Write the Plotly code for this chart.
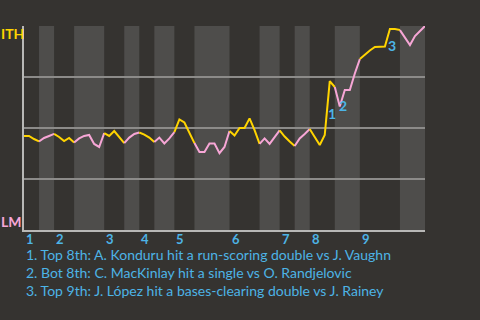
import plotly.graph_objects as go

# Win probability for ITH (percent) after each plate appearance (index 0 = start)
wp_ith = [46.1, 46.1, 44.6, 43.4, 45.1, 46.1, 47.1, 45.6, 43.6, 45.1,
          42.9, 44.9, 46.1, 46.6, 42.2, 40.7, 47.5, 46.1, 48.5, 45.3,
          42.6, 45.3, 47.1, 47.8, 46.8, 45.3, 43.1, 45.3, 42.4, 44.9,
          48.0, 54.2, 52.7, 47.5, 42.6, 38.2, 38.2, 42.4, 42.4, 37.7,
          40.7, 48.5, 46.3, 50.0, 50.0, 54.7, 49.0, 42.2, 44.9, 42.2,
          45.3, 48.8, 45.8, 43.4, 41.2, 44.9, 47.1, 49.5, 45.6, 41.7,
          46.6, 73.0, 70.1, 60.5, 68.6, 68.6, 76.7, 83.8, 86.0, 88.0,
          89.7, 89.9, 89.9, 98.5, 98.5, 98.0, 94.4, 90.7, 95.1, 97.5,
          100.0]

# Plate-appearance index where each half inning starts (last value = end of game)
half_inning_bounds = [0, 3, 6, 10, 16, 20, 23, 26, 30, 34, 41, 47, 51, 54, 57, 62, 67, 75, 80]
inning_labels = ["1", "2", "3", "4", "5", "6", "7", "8", "9"]

# Key plays: PA index of the play and its caption
event_pa = [61, 63, 73]
event_labels = ["1", "2", "3"]
event_notes = [
    "1. Top 8th: A. Konduru hit a run-scoring double vs J. Vaughn",
    "2. Bot 8th: C. MacKinlay hit a single vs O. Randjelovic",
    "3. Top 9th: J. López hit a bases-clearing double vs J. Rainey",
]
team_top = "ITH"
team_bottom = "LM"

BG = "#353330"
BAND = "#4e4d4b"
YELLOW = "#ffd400"
PINK = "#f7a6d6"
BLUE = "#4db4e6"
FONT = "Lato"

W, H = 480, 320
L, R, T, B = 24, 55, 26, 90
PW, PH = W - L - R, H - T - B


def px_x(p):
    return (p - L) / PW


def px_y(p):
    return (H - B - p) / PH


fig = go.Figure()

# half-inning bands (bottom halves lighter)
shapes = []
for i in range(len(half_inning_bounds) - 1):
    if i % 2 == 1:
        shapes.append(dict(type="rect", xref="x", yref="paper",
                           x0=half_inning_bounds[i], x1=half_inning_bounds[i + 1],
                           y0=0, y1=1, fillcolor=BAND, line_width=0, layer="between"))

# line segments coloured by batting team
for i in range(len(half_inning_bounds) - 1):
    a, b = half_inning_bounds[i], half_inning_bounds[i + 1]
    xs = list(range(a, b + 1))
    ys = wp_ith[a:b + 1]
    fig.add_trace(go.Scatter(x=xs, y=ys, mode="lines",
                             line=dict(color=YELLOW if i % 2 == 0 else PINK, width=2),
                             hoverinfo="skip", showlegend=False))

annotations = []
# event markers
shifts = [(2, -32), (3, 1), (2, -16)]
for pa, lab, (sx, sy) in zip(event_pa, event_labels, shifts):
    annotations.append(dict(x=pa, y=wp_ith[pa], xref="x", yref="y", text=lab,
                            showarrow=False, xshift=sx, yshift=sy,
                            font=dict(family=FONT, size=14, color=BLUE, weight="bold")))

# inning labels
for lab, idx in zip(inning_labels, half_inning_bounds[0:-1:2]):
    annotations.append(dict(x=idx, y=px_y(239), xref="x", yref="paper", text=lab,
                            showarrow=False, xanchor="left", yanchor="middle", xshift=0,
                            font=dict(family=FONT, size=13, color=BLUE, weight="bold")))

# team labels
annotations.append(dict(x=px_x(12), y=px_y(33), xref="paper", yref="paper", text=team_top,
                        showarrow=False, xanchor="center", yanchor="middle",
                        font=dict(family=FONT, size=14, color=YELLOW, weight="bold")))
annotations.append(dict(x=px_x(11), y=px_y(221), xref="paper", yref="paper", text=team_bottom,
                        showarrow=False, xanchor="center", yanchor="middle",
                        font=dict(family=FONT, size=14, color=PINK, weight="bold")))

# notes
for j, note in enumerate(event_notes):
    annotations.append(dict(x=px_x(24), y=px_y(254 + 18.3 * j), xref="paper", yref="paper",
                            text=note, showarrow=False, xanchor="left", yanchor="middle",
                            font=dict(family=FONT, size=14, color=BLUE)))

fig.update_layout(
    width=W, height=H,
    margin=dict(l=L, r=R, t=T, b=B, pad=0),
    paper_bgcolor=BG, plot_bgcolor=BG,
    shapes=shapes, annotations=annotations,
    xaxis=dict(range=[0, 80], showgrid=False, zeroline=False, showticklabels=False,
               showline=True, linecolor="#b8b8b6", linewidth=2, ticks=""),
    yaxis=dict(range=[0, 100], tickvals=[0, 25, 50, 75, 100], showgrid=True,
               gridcolor="#8c8b89", gridwidth=1.5, zeroline=False, showticklabels=False,
               showline=True, linecolor="#b8b8b6", linewidth=2, ticks=""),
)

fig.write_html("out.html")
